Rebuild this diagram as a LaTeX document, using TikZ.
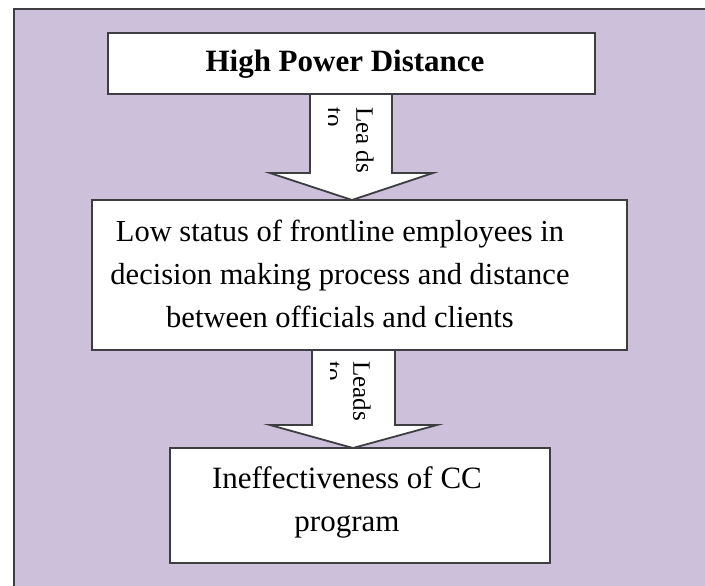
\documentclass[tikz,border=0pt]{standalone}
\usepackage{fontspec}
\setmainfont{Liberation Serif}
\definecolor{bgpurple}{RGB}{204,192,218}
\definecolor{linegray}{RGB}{62,62,66}
\begin{document}
\begin{tikzpicture}[x=1pt,y=-1pt,
  boxstyle/.style={draw=linegray, line width=2.2pt, fill=white, inner sep=0pt, outer sep=0pt},
  arrowstyle/.style={draw=linegray, line width=1.8pt, fill=white, line join=miter},
  mainlabel/.style={inner sep=0pt, font=\fontsize{30.5}{43}\selectfont, align=center, text=black},
  leadlabel/.style={inner sep=0pt, rotate=-90, anchor=north west, align=left, text=black}]
\useasboundingbox (0,0) rectangle (705,586);
% background frame
\fill[bgpurple] (14,9) rectangle (705,586);
\draw[linegray, line width=2.5pt] (14,590) -- (14,9) -- (710,9);
% boxes
\node[boxstyle, minimum width=487pt, minimum height=61pt] (b1) at (351.5,63.5) {};
\node[boxstyle, minimum width=535pt, minimum height=150pt] (b2) at (359.5,275) {};
\node[boxstyle, minimum width=380pt, minimum height=115pt] (b3) at (360,505.5) {};
% texts
\node[mainlabel, font=\fontsize{31}{43}\selectfont\bfseries, anchor=base] (t1) at (345,72) {High Power Distance};
\node[mainlabel, anchor=north] (t2) at (340,219.5) {Low status of frontline employees in\\decision making process and distance\\between officials and clients};
\node[mainlabel, font=\fontsize{31}{43}\selectfont, anchor=north] (t3) at (347,466) {Ineffectiveness of CC\\program};
% block arrows
\draw[arrowstyle] (310,94) -- (392,94) -- (392,173) -- (433,173) -- (352,200) -- (270,173) -- (310,173) -- cycle;
\draw[arrowstyle] (312,350) -- (395,350) -- (395,425) -- (437,425) -- (353,448) -- (270,425) -- (312,425) -- cycle;
% arrow labels
\begin{scope}
\clip (328,96) rectangle (391,172);
\node[leadlabel, font=\fontsize{25}{30}\selectfont] (l1) at (374,107) {Lea ds\\to};
\end{scope}
\begin{scope}
\clip (330,352) rectangle (394,424);
\node[leadlabel, font=\fontsize{25}{28}\selectfont] (l2) at (371,361) {Leads\\to};
\end{scope}
\end{tikzpicture}
\end{document}
